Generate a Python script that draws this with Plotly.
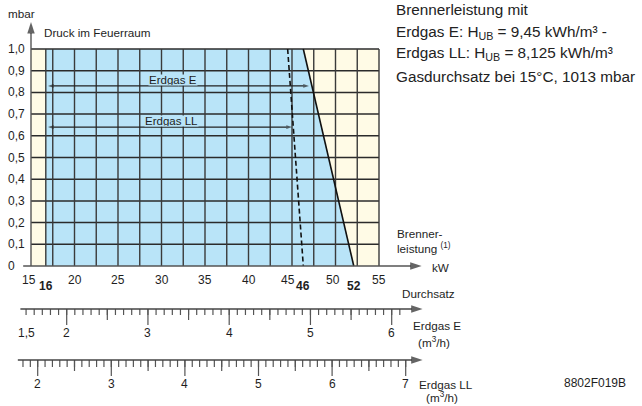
import numpy as np
import plotly.graph_objects as go

W, H = 642, 406

# ---------------- data ----------------
# main diagram: burner output (kW) vs. combustion chamber pressure (mbar)
kw_tick_vals = [15, 20, 25, 30, 35, 40, 45, 50, 55]
kw_tick_text = ["15", "20", "25", "30", "35", "40", "45", "50", "55"]
kw_mark_vals = [16.7, 46.3, 52.1]          # bold marks (as drawn)
kw_mark_text = ["16", "46", "52"]
mbar_vals = [0, 0.1, 0.2, 0.3, 0.4, 0.5, 0.6, 0.7, 0.8, 0.9, 1.0]
mbar_text = ["0", "0,1", "0,2", "0,3", "0,4", "0,5", "0,6", "0,7", "0,8", "0,9", "1,0"]

# working field (Erdgas E), solid limit
field_kw = [16.7, 52.1, 46.3, 16.7]
field_mbar = [0.0, 0.0, 1.0, 1.0]
# Erdgas LL limit (dashed)
ll_limit_kw = [44.5, 46.3]
ll_limit_mbar = [1.0, 0.0]
# range arrows: (start kW, end kW, mbar)
range_e = [16.95, 46.95, 0.83]
range_ll = [16.95, 45.0, 0.64]

# gas flow scales (m3/h)
e_major = [2, 3, 4, 5, 6]
e_major_text = ["2", "3", "4", "5", "6"]
e_first = [1.5]
e_first_text = ["1,5"]
e_medium = [2.5, 3.5, 4.5, 5.5]
ll_major = [2, 3, 4, 5, 6, 7]
ll_major_text = ["2", "3", "4", "5", "6", "7"]
ll_medium = [2.5, 3.5, 4.5, 5.5, 6.5]

# ---------------- scales (pixel calibration) ----------------
KX0, KPX0, KPPU = 15, 31.0, 8.7      # kW axis
MPY0, MPPU = 266.0, 217.0            # mbar axis
EX0, EPX0, EPPU = 2, 66.7, 81.25     # Erdgas E m3/h
LX0, LPX0, LPPU = 2, 37.7, 73.6      # Erdgas LL m3/h

def xr(x0, px0, ppu):
    return [x0 - px0 / ppu, x0 + (W - px0) / ppu]

BLUE = "#b9e4f8"
YELLOW = "#fffbe6"
GRID = "#2b2b2b"
AX = "#555555"
TXT = "#1e1e1e"
FONT = "Liberation Sans, Arial, Helvetica, sans-serif"

fig = go.Figure()

# background (yellow) area 15..55 kW, 0..1 mbar
fig.add_trace(go.Scatter(x=[kw_tick_vals[0], kw_tick_vals[-1], kw_tick_vals[-1], kw_tick_vals[0]],
                         y=[mbar_vals[0], mbar_vals[0], mbar_vals[-1], mbar_vals[-1]],
                         fill="toself", fillcolor=YELLOW, mode="none", hoverinfo="skip"))
# working field (blue)
fig.add_trace(go.Scatter(x=field_kw, y=field_mbar, fill="toself", fillcolor=BLUE,
                         mode="none", hoverinfo="skip"))

# grid lines
gx, gy = [], []
for v in mbar_vals[1:]:
    gx += [kw_tick_vals[0], kw_tick_vals[-1], None]
    gy += [v, v, None]
fig.add_trace(go.Scatter(x=gx, y=gy, mode="lines", line=dict(color=GRID, width=1.5), hoverinfo="skip"))
vx, vy = [], []
for v in list(np.arange(17.5, 55.01, 2.5)) + [field_kw[0]]:
    vx += [v, v, None]
    vy += [0, 1.0, None]
fig.add_trace(go.Scatter(x=vx, y=vy, mode="lines", line=dict(color="#3a3a3a", width=1.4), hoverinfo="skip"))

# solid limit line
fig.add_trace(go.Scatter(x=field_kw[1:3], y=field_mbar[1:3], mode="lines",
                         line=dict(color="#111111", width=1.6), hoverinfo="skip"))
# dashed LL limit
fig.add_trace(go.Scatter(x=ll_limit_kw, y=ll_limit_mbar, mode="lines",
                         line=dict(color="#111111", width=1.6, dash="5px,3px"), hoverinfo="skip"))

# lower scale tick marks
def ticks(vals, y0, ln):
    xs, ys = [], []
    for v in vals:
        xs += [v, v, None]
        ys += [y0, y0 + ln, None]
    return xs, ys

E_Y, LL_Y = 309.0, 360.0
e_minor = [round(v, 1) for v in np.arange(1.5, 6.15, 0.1)]
ll_minor = [round(v, 1) for v in np.arange(1.8, 7.05, 0.1)]
for vals, ln in [(e_minor, 6), (e_medium, 11), (e_major, 16)]:
    xs, ys = ticks(vals, E_Y, ln)
    fig.add_trace(go.Scatter(x=xs, y=ys, xaxis="x2", yaxis="y2", mode="lines",
                             line=dict(color="#555555", width=1.2), hoverinfo="skip"))
for vals, ln in [(ll_minor, 7), (ll_medium, 11), (ll_major, 16)]:
    xs, ys = ticks(vals, LL_Y, ln)
    fig.add_trace(go.Scatter(x=xs, y=ys, xaxis="x3", yaxis="y3", mode="lines",
                             line=dict(color="#555555", width=1.2), hoverinfo="skip"))

# arrows: line + arrow-shaped marker at the tip
def arrow(x0, y0, x1, y1, xa, ya, size, width, color, lcolor=None):
    fig.add_trace(go.Scatter(x=[x0, x1], y=[y0, y1], xaxis=xa, yaxis=ya, mode="lines+markers",
                             line=dict(color=lcolor or color, width=width),
                             marker=dict(symbol="arrow", angleref="previous", size=[0, size],
                                         color=color, line=dict(width=0)),
                             hoverinfo="skip"))

arrow(14.1, 0, 59.9, 0, "x", "y", 12, 1.4, "#222222", AX)          # kW axis
arrow(15, 0, 15, 1.124, "x", "y", 12, 1.4, "#222222", AX)          # mbar axis
arrow(1.43, E_Y, 6.38, E_Y, "x2", "y2", 12, 1.3, "#222222", "#444444")
arrow(1.73, LL_Y, 7.23, LL_Y, "x3", "y3", 12, 1.3, "#222222", "#444444")
for rng in (range_e, range_ll):
    mid = (rng[0] + rng[1]) / 2
    arrow(mid, rng[2], rng[1], rng[2], "x", "y", 6, 1.1, "#222222")
    arrow(mid, rng[2], rng[0], rng[2], "x", "y", 6, 1.1, "#222222")

ann = []
def txt(text, x, y, xref="paper", yref="paper", size=11.7, xanchor="left", yanchor="middle",
        family=FONT, bold=False, bg=None, xshift=0, color=TXT, height=None):
    d = dict(text=("<b>%s</b>" % text) if bold else text, x=x, y=y, xref=xref, yref=yref,
             showarrow=False, xanchor=xanchor, yanchor=yanchor, xshift=xshift,
             font=dict(size=size, family=family, color=color), borderpad=0)
    if bg:
        d["bgcolor"] = bg
    if height:
        d["height"] = height
    ann.append(d)

P = lambda px: px / W
Q = lambda py: 1 - py / H

# y labels
for v, t in zip(mbar_vals, mbar_text):
    txt(t, P(7), v, yref="y", size=12)
txt("mbar", P(7), Q(13))
txt("Druck im Feuerraum", P(43), Q(32))

# kW labels
shifts = {15: -2, 45: -4, 50: -3}
for v, t in zip(kw_tick_vals, kw_tick_text):
    txt(t, v, 280, xref="x", yref="y4", size=12, xanchor="center", xshift=shifts.get(v, 0))
for v, t in zip(kw_mark_vals, kw_mark_text):
    txt(t, v, 286, xref="x", yref="y4", size=12, xanchor="center", bold=True)

# range labels
txt("Erdgas E", 31.3, 80, xref="x", yref="y4", size=11.5, xanchor="center", bg=BLUE, height=10)
txt("Erdgas LL", 31.1, 120.5, xref="x", yref="y4", size=11.5, xanchor="center", bg=BLUE, height=10)

# right labels
txt("Brenner-", P(396), Q(233))
txt("leistung <sup>(1)</sup>", P(396), Q(248))
txt("kW", P(431), Q(267))
txt("Durchsatz", P(401), Q(293))
txt("Erdgas E", P(412), Q(325))
txt("(m<sup>3</sup>/h)", P(417), Q(342))
txt("Erdgas LL", P(418), Q(384))
txt("(m<sup>3</sup>/h)", P(425), Q(397))
txt("8802F019B", P(563), Q(383), size=12)

# scale numbers
for v, t in zip(e_first + e_major, e_first_text + e_major_text):
    txt(t, v, 333, xref="x2", yref="y2", size=12, xanchor="center")
for v, t in zip(ll_major, ll_major_text):
    txt(t, v, 384, xref="x3", yref="y3", size=12, xanchor="center")

# top-right info block
info = ["Brennerleistung mit",
        "Erdgas E: H<sub>UB</sub> = 9,45 kWh/m³ -",
        "Erdgas LL: H<sub>UB</sub> = 8,125 kWh/m³",
        "Gasdurchsatz bei 15°C, 1013 mbar"]
info_y = [9, 32, 54, 76]
for line, py in zip(info, info_y):
    txt(line, P(395), Q(py), size=15.3, color="#222")

hid = dict(visible=False, showgrid=False, zeroline=False, fixedrange=True)
fig.update_layout(
    width=W, height=H, margin=dict(l=0, r=0, t=0, b=0),
    paper_bgcolor="white", plot_bgcolor="rgba(0,0,0,0)", showlegend=False,
    xaxis=dict(range=xr(KX0, KPX0, KPPU), domain=[0, 1], **hid),
    yaxis=dict(range=[(MPY0 - H) / MPPU, MPY0 / MPPU], domain=[0, 1], **hid),
    xaxis2=dict(range=xr(EX0, EPX0, EPPU), domain=[0, 1], overlaying="x", anchor="y2", **hid),
    yaxis2=dict(range=[H, 0], domain=[0, 1], overlaying="y", anchor="x2", **hid),
    xaxis3=dict(range=xr(LX0, LPX0, LPPU), domain=[0, 1], overlaying="x", anchor="y3", **hid),
    yaxis3=dict(range=[H, 0], domain=[0, 1], overlaying="y", anchor="x3", **hid),
    yaxis4=dict(range=[H, 0], domain=[0, 1], overlaying="y", anchor="x", **hid),
    annotations=ann,
)

fig.write_html("out.html", config={"displayModeBar": False, "staticPlot": True},
               post_script="document.body.style.margin='0';document.body.style.overflow='hidden';")
